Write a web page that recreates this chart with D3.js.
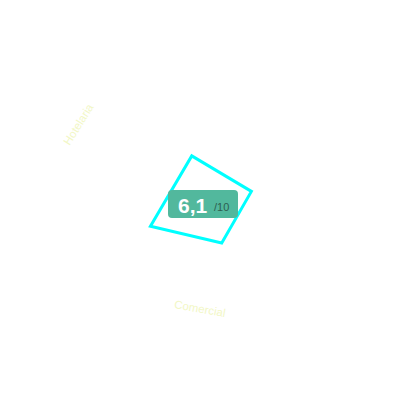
<!DOCTYPE html>
<html>
<head>
<meta charset="utf-8">
<script src="https://cdn.jsdelivr.net/npm/d3@7"></script>
<style>
  body { margin: 0; background: #fff; }
</style>
</head>
<body>
<div id="radar-box"></div>
<script>
// values per axis (0..10)
const axisNames = ['a1', 'a2', 'a3', 'a4'];
const axisValues = [6.5, 5.5, 4.8, 7.6];
const labels = ['Hotelaria', 'Comercial'];
const score = '6,1';
const scoreMax = '/10';

const drawRadar = () => {

    const dims = {height: 400, width: 400, radius: 81.5};
    const cent = {x: 209, y: 206};
    const rot = -19; // degrees, clockwise from 12 o'clock for first axis

    const svg = d3.select('#radar-box')
        .append('svg')
        .attr('width', dims.width)
        .attr('height', dims.height);

    const graph = svg.append('g')
        .attr('transform', `translate(${cent.x}, ${cent.y})`);

    const r = d3.scaleLinear().domain([0, 10]).range([0, dims.radius]);
    const angle = d3.scaleBand().domain(axisNames).range([0, 2 * Math.PI]);

    const line = d3.lineRadial()
        .angle(d => angle(d.name) + rot * Math.PI / 180)
        .radius(d => r(d.value))
        .curve(d3.curveLinearClosed);

    const data = axisNames.map((name, i) => ({name, value: axisValues[i]}));

    graph.append('path')
        .datum(data)
        .attr('d', line)
        .attr('fill', 'none')
        .attr('stroke', '#00ffff')
        .attr('stroke-width', 3)
        .attr('stroke-linejoin', 'miter');

    // faint axis labels, set tangentially
    const labelPos = [
        {deg: -148, dist: 154, tilt: -58},
        {deg: 95, dist: 103, tilt: 10}
    ];
    graph.selectAll('text.lbl')
        .data(labels)
        .enter()
        .append('text')
            .attr('class', 'lbl')
            .attr('transform', (d, i) => {
                const p = labelPos[i];
                const a = p.deg * Math.PI / 180;
                return `translate(${p.dist * Math.cos(a)}, ${p.dist * Math.sin(a)}) rotate(${p.tilt})`;
            })
            .attr('text-anchor', 'middle')
            .attr('dy', '0.35em')
            .attr('font-family', 'Liberation Sans, Arial, sans-serif')
            .attr('font-size', 11.5)
            .attr('fill', '#f2f7c6')
            .text(d => d);

    // score badge
    const badge = svg.append('g').attr('transform', 'translate(168, 190)');
    badge.append('rect')
        .attr('width', 70)
        .attr('height', 28)
        .attr('rx', 4)
        .attr('fill', '#52b89d');
    badge.append('text')
        .attr('x', 10)
        .attr('y', 23)
        .attr('font-family', 'Liberation Sans, Arial, sans-serif')
        .attr('font-weight', 'bold')
        .attr('font-size', 21)
        .attr('fill', '#fff')
        .text(score);
    badge.append('text')
        .attr('x', 46)
        .attr('y', 21)
        .attr('font-family', 'Liberation Sans, Arial, sans-serif')
        .attr('font-size', 11)
        .attr('fill', '#2e5e50')
        .text(scoreMax);
};

drawRadar();
</script>
</body>
</html>
